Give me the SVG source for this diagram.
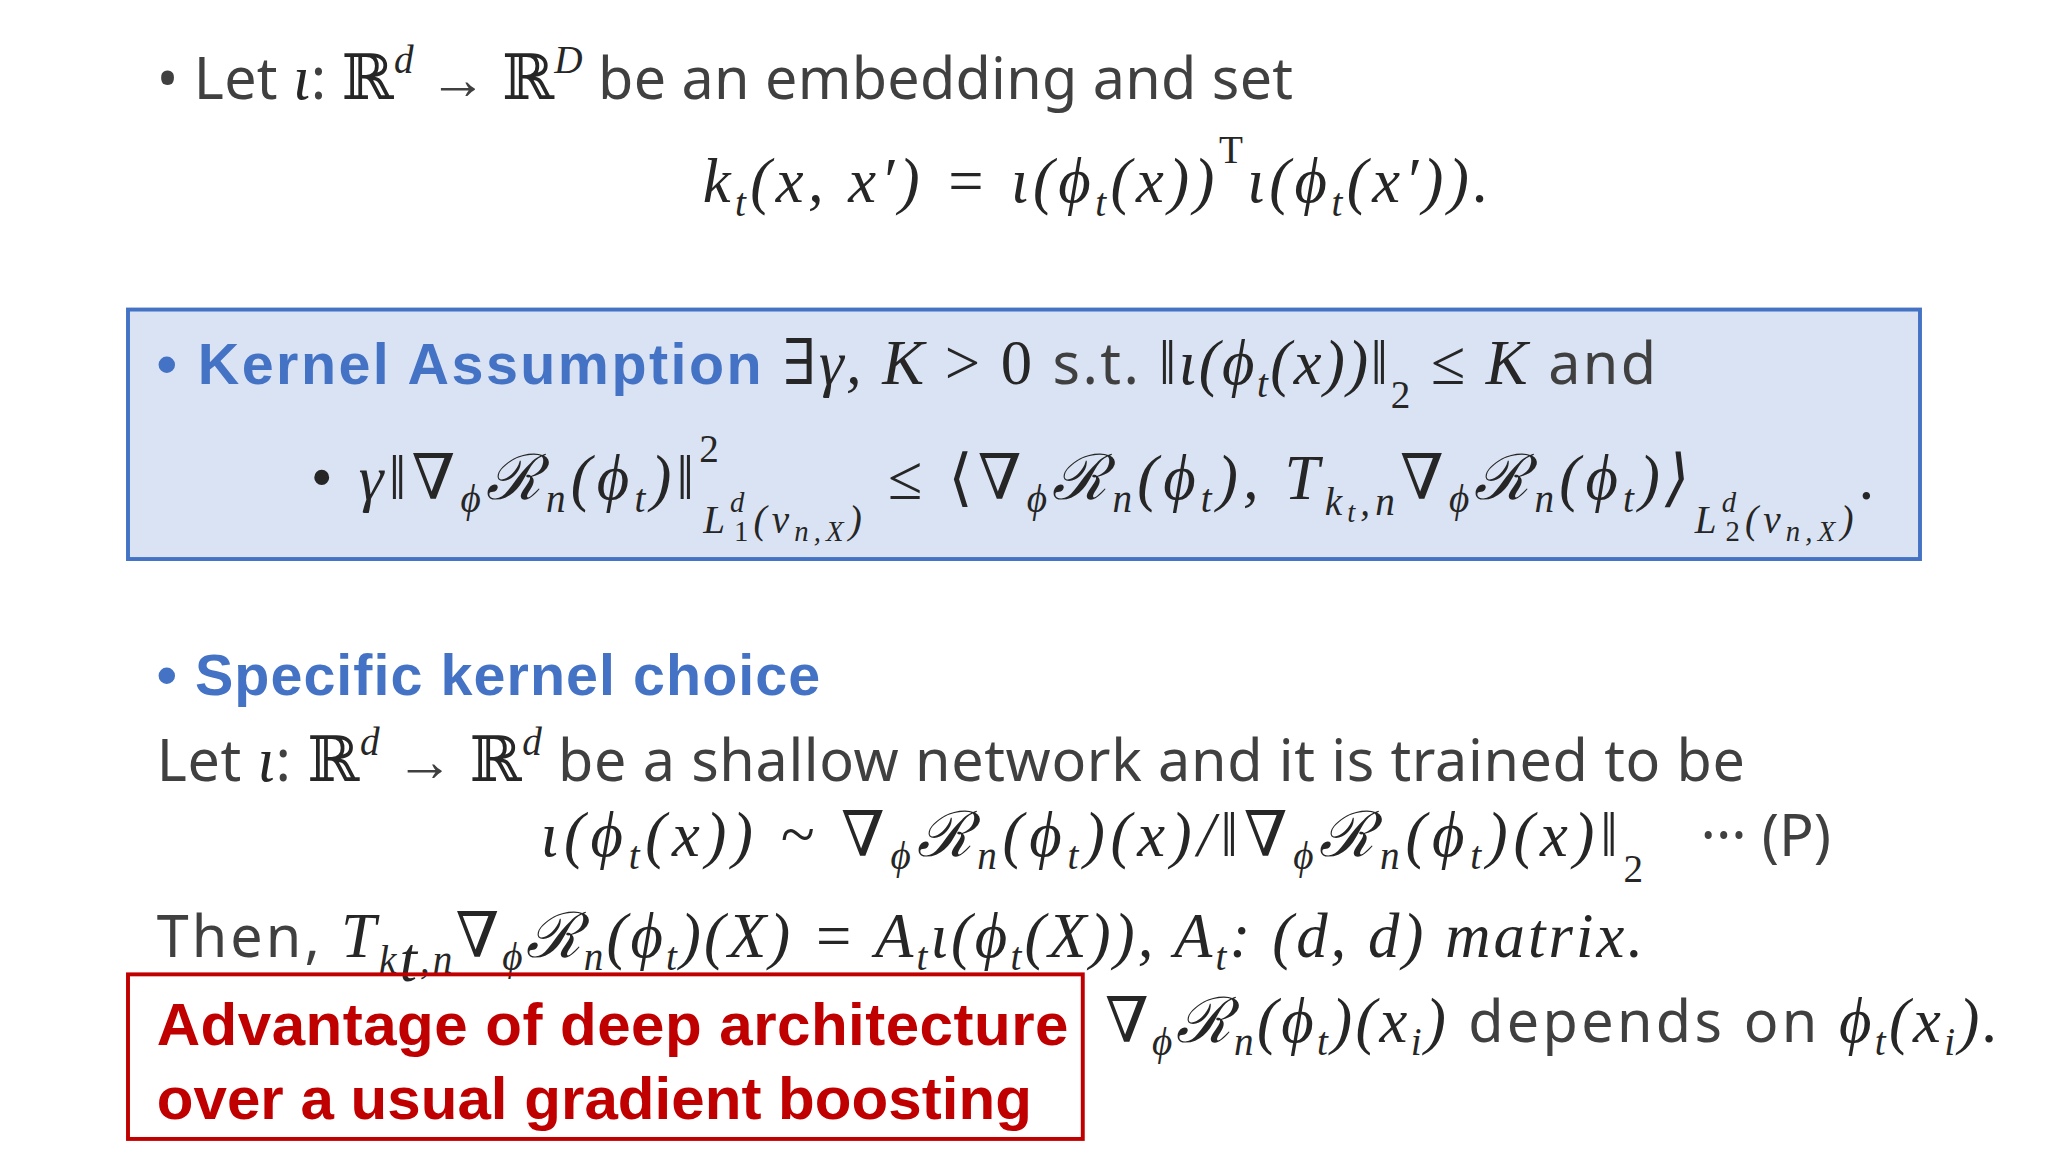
<svg xmlns="http://www.w3.org/2000/svg" width="2048" height="1152" viewBox="0 0 2048 1152">
<style>
.t{font-family:"Noto Sans","Liberation Sans",sans-serif;font-size:44px;fill:#404040}
.m{font-family:"Liberation Serif","DejaVu Serif",serif;font-style:italic;font-size:48px;fill:#262626}
.u{font-style:normal}
.b{font-family:"Liberation Sans",Arial,sans-serif;font-weight:bold;font-size:44px;fill:#4472c4}
.r{font-family:"Liberation Sans",Arial,sans-serif;font-weight:bold;font-size:46px;fill:#c00000}
.s{font-size:30px}
</style>
<rect width="2048" height="1152" fill="#fff"/>
<g transform="scale(1.30612)">
<g id="line1">
<text x="120" y="76" class="t" textLength="870" lengthAdjust="spacing">• Let <tspan class="m">ι</tspan>: <tspan class="m u">ℝ</tspan><tspan class="m s" dy="-20">d</tspan><tspan dy="20"> → </tspan><tspan class="m u">ℝ</tspan><tspan class="m s" dy="-20">D</tspan><tspan dy="20"> be an embedding and set</tspan></text>
<text x="538" y="155" class="m" textLength="602" lengthAdjust="spacing">k<tspan class="s" dy="10">t</tspan><tspan dy="-10">(x, x′) = ι(ϕ</tspan><tspan class="s" dy="10">t</tspan><tspan dy="-10">(x))</tspan><tspan class="u s" dy="-30">T</tspan><tspan dy="30">ι(ϕ</tspan><tspan class="s" dy="10">t</tspan><tspan dy="-10">(x′)).</tspan></text>
</g>
<g id="kernel-assumption">
<rect x="98" y="237" width="1372" height="191" fill="#dae3f3" stroke="#4472c4" stroke-width="3"/>
<text x="120" y="294" class="b" textLength="1148" lengthAdjust="spacing">• Kernel Assumption <tspan class="m u" font-weight="normal">∃</tspan><tspan class="m" font-weight="normal">γ, K</tspan><tspan class="m u" font-weight="normal"> &gt; 0 </tspan><tspan class="t" font-weight="normal" fill="#262626">s.t. </tspan><tspan class="m" font-weight="normal">‖ι(ϕ</tspan><tspan class="m s" font-weight="normal" dy="10">t</tspan><tspan class="m" font-weight="normal" dy="-10">(x))‖</tspan><tspan class="m u s" font-weight="normal" dy="18">2</tspan><tspan class="m u" font-weight="normal" dy="-18"> ≤ </tspan><tspan class="m" font-weight="normal">K </tspan><tspan class="t" font-weight="normal" fill="#262626">and</tspan></text>
<text x="238" y="382" class="m" textLength="1197" lengthAdjust="spacing"><tspan class="u">• </tspan>γ‖∇<tspan class="s" dy="10">ϕ</tspan><tspan dy="-10">ℛ</tspan><tspan class="s" dy="10">n</tspan><tspan dy="-10">(ϕ</tspan><tspan class="s" dy="10">t</tspan><tspan dy="-10">)‖</tspan><tspan class="u s" dy="-28">2</tspan><tspan class="s" dx="-16" dy="54">L</tspan><tspan font-size="22" dy="-16">d</tspan><tspan class="u" font-size="22" dx="-12" dy="22">1</tspan><tspan class="s" dy="-6">(ν</tspan><tspan font-size="22" dy="6">n,X</tspan><tspan class="s" dy="-6">)</tspan><tspan class="u" dy="-26"> ≤ ⟨∇</tspan><tspan class="s" dy="10">ϕ</tspan><tspan dy="-10">ℛ</tspan><tspan class="s" dy="10">n</tspan><tspan dy="-10">(ϕ</tspan><tspan class="s" dy="10">t</tspan><tspan dy="-10">), T</tspan><tspan class="s" dy="12">k</tspan><tspan font-size="22" dy="6">t</tspan><tspan class="s" dy="-6">,n</tspan><tspan dy="-12">∇</tspan><tspan class="s" dy="10">ϕ</tspan><tspan dy="-10">ℛ</tspan><tspan class="s" dy="10">n</tspan><tspan dy="-10">(ϕ</tspan><tspan class="s" dy="10">t</tspan><tspan dy="-10">)⟩</tspan><tspan class="s" dy="26">L</tspan><tspan font-size="22" dy="-16">d</tspan><tspan class="u" font-size="22" dx="-12" dy="22">2</tspan><tspan class="s" dy="-6">(ν</tspan><tspan font-size="22" dy="6">n,X</tspan><tspan class="s" dy="-6">)</tspan><tspan class="u" dy="-26">.</tspan></text>
</g>
<g id="specific">
<text x="120" y="532" class="b" textLength="508" lengthAdjust="spacing">• Specific kernel choice</text>
<text x="120" y="598" class="t" textLength="1216" lengthAdjust="spacing">Let <tspan class="m">ι</tspan>: <tspan class="m u">ℝ</tspan><tspan class="m s" dy="-20">d</tspan><tspan dy="20"> → </tspan><tspan class="m u">ℝ</tspan><tspan class="m s" dy="-20">d</tspan><tspan dy="20"> be a shallow network and it is trained to be</tspan></text>
<text x="414" y="655" class="m" textLength="844" lengthAdjust="spacing">ι(ϕ<tspan class="s" dy="10">t</tspan><tspan dy="-10">(x)) ~ ∇</tspan><tspan class="s" dy="10">ϕ</tspan><tspan dy="-10">ℛ</tspan><tspan class="s" dy="10">n</tspan><tspan dy="-10">(ϕ</tspan><tspan class="s" dy="10">t</tspan><tspan dy="-10">)(x)/‖∇</tspan><tspan class="s" dy="10">ϕ</tspan><tspan dy="-10">ℛ</tspan><tspan class="s" dy="10">n</tspan><tspan dy="-10">(ϕ</tspan><tspan class="s" dy="10">t</tspan><tspan dy="-10">)(x)‖</tspan><tspan class="u s" dy="20">2</tspan></text>
<text x="1302" y="655" class="t" fill="#262626">··· (P)</text>
<text x="120" y="733" class="t" textLength="1138" lengthAdjust="spacing">Then, <tspan class="m">T</tspan><tspan class="m s" dy="12">k</tspan><tspan class="m" font-size="22" dy="6">t</tspan><tspan class="m s" dy="-6">,n</tspan><tspan class="m" dy="-12">∇</tspan><tspan class="m s" dy="10">ϕ</tspan><tspan class="m" dy="-10">ℛ</tspan><tspan class="m s" dy="10">n</tspan><tspan class="m" dy="-10">(ϕ</tspan><tspan class="m s" dy="10">t</tspan><tspan class="m" dy="-10">)(X) = A</tspan><tspan class="m s" dy="10">t</tspan><tspan class="m" dy="-10">ι(ϕ</tspan><tspan class="m s" dy="10">t</tspan><tspan class="m" dy="-10">(X)),  A</tspan><tspan class="m s" dy="10">t</tspan><tspan class="m" dy="-10">: (d, d) matrix.</tspan></text>
<text x="846" y="798" class="m" textLength="684" lengthAdjust="spacing">∇<tspan class="s" dy="10">ϕ</tspan><tspan dy="-10">ℛ</tspan><tspan class="s" dy="10">n</tspan><tspan dy="-10">(ϕ</tspan><tspan class="s" dy="10">t</tspan><tspan dy="-10">)(x</tspan><tspan class="s" dy="10">i</tspan><tspan dy="-10">) </tspan><tspan class="t u" fill="#262626">depends on </tspan>ϕ<tspan class="s" dy="10">t</tspan><tspan dy="-10">(x</tspan><tspan class="s" dy="10">i</tspan><tspan dy="-10">).</tspan></text>
</g>
<g id="advantage">
<rect x="98" y="746" width="731" height="126" fill="none" stroke="#c00000" stroke-width="3"/>
<text x="120" y="800" class="r" textLength="698" lengthAdjust="spacing">Advantage of deep architecture</text>
<text x="120" y="857" class="r" textLength="670" lengthAdjust="spacing">over a usual gradient boosting</text>
</g>
</g>
</svg>
